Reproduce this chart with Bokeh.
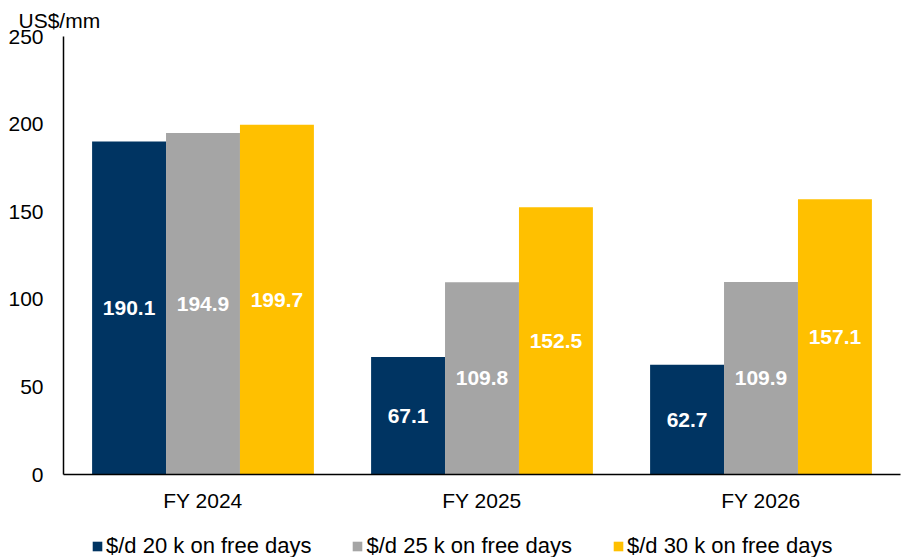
from bokeh.plotting import figure
from bokeh.layouts import column
from bokeh.models import (ColumnDataSource, FactorRange, FixedTicker, Legend, LegendItem, Range1d)
from bokeh.transform import dodge
from bokeh.core.properties import value
from bokeh.embed import file_html
from bokeh.resources import INLINE

categories = ["FY 2024", "FY 2025", "FY 2026"]
series_names = ["$/d 20 k on free days", "$/d 25 k on free days", "$/d 30 k on free days"]
s20 = [190.1, 67.1, 62.7]
s25 = [194.9, 109.8, 109.9]
s30 = [199.7, 152.5, 157.1]
y_ticks = [0, 50, 100, 150, 200, 250]
unit_label = "US$/mm"

colors = ["#003462", "#A5A5A5", "#FFC000"]
FONT = "Liberation Sans"

src = ColumnDataSource(dict(
    cat=categories,
    s20=s20, s25=s25, s30=s30,
    m20=[v / 2 for v in s20], m25=[v / 2 for v in s25], m30=[v / 2 for v in s30],
    t20=[f"{v:.1f}" for v in s20], t25=[f"{v:.1f}" for v in s25], t30=[f"{v:.1f}" for v in s30],
))

p = figure(width=911, height=520, x_range=FactorRange(factors=categories, range_padding=0),
           y_range=(0, 250), output_backend="svg", toolbar_location=None,
           min_border_left=63, min_border_right=11, min_border_top=36, min_border_bottom=46)
p.outline_line_color = None
p.xgrid.grid_line_color = None
p.ygrid.grid_line_color = None

bw = 0.265
offs = [-bw, 0.0, bw]
keys = ["20", "25", "30"]
for k, off, c in zip(keys, offs, colors):
    p.vbar(x=dodge("cat", off, range=p.x_range), top="s" + k, width=bw, source=src,
           fill_color=c, line_color=None)
    p.text(x=dodge("cat", off, range=p.x_range), y="m" + k, text="t" + k, source=src,
           text_color="white", text_font=value(FONT), text_font_style="bold",
           text_font_size="21px", text_align="center", text_baseline="middle")

# axes
p.yaxis.ticker = FixedTicker(ticks=y_ticks)
p.yaxis.major_tick_line_color = None
p.yaxis.minor_tick_line_color = None
p.yaxis.major_tick_out = 0
p.yaxis.major_tick_in = 0
p.yaxis.major_label_standoff = 20
p.yaxis.axis_line_color = "black"
p.yaxis.axis_line_width = 1.5
p.yaxis.major_label_text_font = FONT
p.yaxis.major_label_text_font_size = "21px"
p.yaxis.major_label_text_color = "black"

p.xaxis.major_tick_line_color = None
p.xaxis.minor_tick_line_color = None
p.xaxis.major_tick_out = 0
p.xaxis.major_tick_in = 0
p.xaxis.major_label_standoff = 14
p.xaxis.axis_line_color = "black"
p.xaxis.axis_line_width = 1.5
p.xaxis.major_label_text_font = FONT
p.xaxis.major_label_text_font_size = "21px"
p.xaxis.major_label_text_color = "black"

# unit title
p.title.text = unit_label
p.title.text_font = FONT
p.title.text_font_size = "21px"
p.title.text_font_style = "normal"
p.title.text_color = "black"
p.title.align = "left"
p.title.offset = -45
p.title.standoff = 10

# legend strip (its frame is aligned with the main frame by the column layout)
lg = figure(width=911, height=37, x_range=Range1d(0, 1), y_range=Range1d(0, 1),
            output_backend="svg", toolbar_location=None,
            x_axis_type=None, y_axis_type=None,
            min_border_left=0, min_border_right=0, min_border_top=0, min_border_bottom=0)
lg.outline_line_color = None
lg.xgrid.grid_line_color = None
lg.ygrid.grid_line_color = None
hidden = ColumnDataSource(dict(x=[0.5], top=[0.0]))
leg_renderers = [lg.vbar(x="x", top="top", bottom=0.0, width=0.0, source=hidden,
                         fill_color=c, line_color=None)
                 for c in colors]
legend = Legend(items=[LegendItem(label=n, renderers=[r]) for n, r in zip(series_names, leg_renderers)],
                location=(28, -2), orientation="horizontal",
                glyph_width=12, glyph_height=12, label_standoff=3, spacing=40,
                padding=0, margin=0, border_line_color=None, background_fill_alpha=0,
                label_text_font=FONT, label_text_font_size="22px", label_text_color="black")
lg.add_layout(legend, "center")

layout = column(p, lg, spacing=0)
open("out.html", "w").write(file_html(layout, INLINE))
